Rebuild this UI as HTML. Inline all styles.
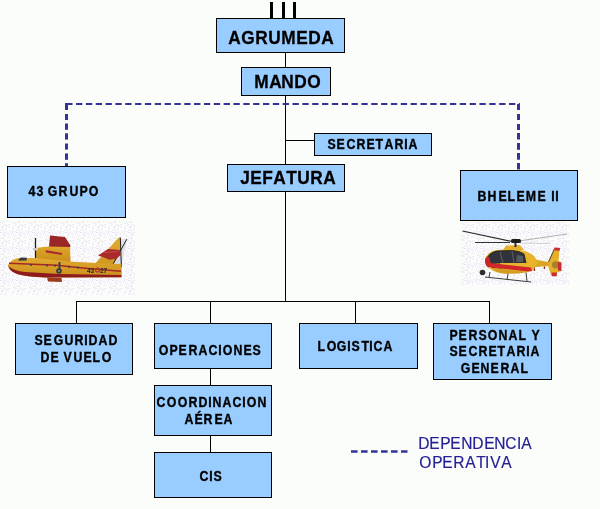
<!DOCTYPE html><html><head><meta charset="utf-8"><style>
html,body{margin:0;padding:0;}
body{width:600px;height:509px;background:#fbfdfb;position:relative;overflow:hidden;font-family:"Liberation Sans",sans-serif;}
.b{position:absolute;background:#99ccff;border:1px solid #000;box-sizing:border-box;}
.t{position:absolute;white-space:nowrap;will-change:transform;}
.l{position:absolute;background:#000;}
.g{display:inline-block;transform:scaleX(0.88);-webkit-text-stroke:0.35px #000;}
.g2{display:inline-block;transform:scaleX(0.96);-webkit-text-stroke:0.3px #000;}
.g3{display:inline-block;transform:scaleX(0.97);-webkit-text-stroke:0.2px #262096;}
svg{position:absolute;left:0;top:0;}
</style></head><body>
<div class="l" style="left:270px;top:2px;width:3px;height:16px"></div>
<div class="l" style="left:282px;top:2px;width:3px;height:16px"></div>
<div class="l" style="left:293px;top:2px;width:3px;height:16px"></div>
<div class="l" style="left:285px;top:53px;width:1px;height:14px"></div>
<div class="l" style="left:285px;top:96px;width:1px;height:68px"></div>
<div class="l" style="left:286px;top:140px;width:28px;height:1px"></div>
<div class="l" style="left:285px;top:192px;width:1px;height:109px"></div>
<div class="l" style="left:76px;top:301px;width:414px;height:1px"></div>
<div class="l" style="left:76px;top:302px;width:1px;height:21px"></div>
<div class="l" style="left:210px;top:302px;width:1px;height:21px"></div>
<div class="l" style="left:355px;top:302px;width:1px;height:21px"></div>
<div class="l" style="left:489px;top:302px;width:1px;height:21px"></div>
<div class="l" style="left:210px;top:369px;width:1px;height:16px"></div>
<div class="l" style="left:210px;top:436px;width:1px;height:16px"></div>
<div class="b" style="left:216px;top:18px;width:129px;height:35px"></div>
<div class="b" style="left:241px;top:67px;width:90px;height:29px"></div>
<div class="b" style="left:314px;top:133px;width:118px;height:23px"></div>
<div class="b" style="left:227px;top:164px;width:118px;height:28px"></div>
<div class="b" style="left:7px;top:166px;width:119px;height:52px"></div>
<div class="b" style="left:460px;top:170px;width:118px;height:51px"></div>
<div class="b" style="left:15px;top:323px;width:118px;height:52px"></div>
<div class="b" style="left:154px;top:323px;width:118px;height:46px"></div>
<div class="b" style="left:299px;top:323px;width:119px;height:46px"></div>
<div class="b" style="left:433px;top:323px;width:119px;height:57px"></div>
<div class="b" style="left:154px;top:385px;width:118px;height:51px"></div>
<div class="b" style="left:154px;top:452px;width:118px;height:46px"></div>
<div class="t" style="left:228px;top:29px;font:bold 18px/18px 'Liberation Sans',sans-serif;color:#000"><span class="g2">A</span><span class="g2">G</span><span class="g2">R</span><span class="g2">U</span><span class="g2">M</span><span class="g2">E</span><span class="g2">D</span><span class="g2">A</span></div>
<div class="t" style="left:254px;top:73px;font:bold 18px/18px 'Liberation Sans',sans-serif;color:#000;letter-spacing:-0.3px"><span class="g2">M</span><span class="g2">A</span><span class="g2">N</span><span class="g2">D</span><span class="g2">O</span></div>
<div class="t" style="left:240px;top:169px;font:bold 18px/18px 'Liberation Sans',sans-serif;color:#000"><span class="g2">J</span><span class="g2">E</span><span class="g2">F</span><span class="g2">A</span><span class="g2">T</span><span class="g2">U</span><span class="g2">R</span><span class="g2">A</span></div>
<div class="t" style="left:327px;top:137px;font:bold 14px/14px 'Liberation Sans',sans-serif;color:#000"><span class="g">S</span><span class="g">E</span><span class="g">C</span><span class="g">R</span><span class="g">E</span><span class="g">T</span><span class="g">A</span><span class="g">R</span><span class="g">I</span><span class="g">A</span></div>
<div class="t" style="left:28px;top:184px;font:bold 14px/14px 'Liberation Sans',sans-serif;color:#000"><span class="g">4</span><span class="g">3</span> <span class="g">G</span><span class="g">R</span><span class="g">U</span><span class="g">P</span><span class="g">O</span></div>
<div class="t" style="left:477px;top:189px;font:bold 14px/14px 'Liberation Sans',sans-serif;color:#000;letter-spacing:0.2px"><span class="g">B</span><span class="g">H</span><span class="g">E</span><span class="g">L</span><span class="g">E</span><span class="g">M</span><span class="g">E</span> <span class="g">I</span><span class="g">I</span></div>
<div class="t" style="left:34px;top:333px;font:bold 14px/14px 'Liberation Sans',sans-serif;color:#000"><span class="g">S</span><span class="g">E</span><span class="g">G</span><span class="g">U</span><span class="g">R</span><span class="g">I</span><span class="g">D</span><span class="g">A</span><span class="g">D</span></div>
<div class="t" style="left:40px;top:350px;font:bold 14px/14px 'Liberation Sans',sans-serif;color:#000"><span class="g">D</span><span class="g">E</span> <span class="g">V</span><span class="g">U</span><span class="g">E</span><span class="g">L</span><span class="g">O</span></div>
<div class="t" style="left:158px;top:343px;font:bold 14px/14px 'Liberation Sans',sans-serif;color:#000"><span class="g">O</span><span class="g">P</span><span class="g">E</span><span class="g">R</span><span class="g">A</span><span class="g">C</span><span class="g">I</span><span class="g">O</span><span class="g">N</span><span class="g">E</span><span class="g">S</span></div>
<div class="t" style="left:156px;top:395px;font:bold 14px/14px 'Liberation Sans',sans-serif;color:#000"><span class="g">C</span><span class="g">O</span><span class="g">O</span><span class="g">R</span><span class="g">D</span><span class="g">I</span><span class="g">N</span><span class="g">A</span><span class="g">C</span><span class="g">I</span><span class="g">O</span><span class="g">N</span></div>
<div class="t" style="left:184px;top:412px;font:bold 14px/14px 'Liberation Sans',sans-serif;color:#000"><span class="g">A</span><span class="g">É</span><span class="g">R</span><span class="g">E</span><span class="g">A</span></div>
<div class="t" style="left:199px;top:469px;font:bold 14px/14px 'Liberation Sans',sans-serif;color:#000"><span class="g">C</span><span class="g">I</span><span class="g">S</span></div>
<div class="t" style="left:317px;top:339px;font:bold 14px/14px 'Liberation Sans',sans-serif;color:#000"><span class="g">L</span><span class="g">O</span><span class="g">G</span><span class="g">I</span><span class="g">S</span><span class="g">T</span><span class="g">I</span><span class="g">C</span><span class="g">A</span></div>
<div class="t" style="left:449px;top:328px;font:bold 14px/14px 'Liberation Sans',sans-serif;color:#000"><span class="g">P</span><span class="g">E</span><span class="g">R</span><span class="g">S</span><span class="g">O</span><span class="g">N</span><span class="g">A</span><span class="g">L</span> <span class="g">Y</span></div>
<div class="t" style="left:449px;top:344px;font:bold 14px/14px 'Liberation Sans',sans-serif;color:#000"><span class="g">S</span><span class="g">E</span><span class="g">C</span><span class="g">R</span><span class="g">E</span><span class="g">T</span><span class="g">A</span><span class="g">R</span><span class="g">I</span><span class="g">A</span></div>
<div class="t" style="left:460px;top:361px;font:bold 14px/14px 'Liberation Sans',sans-serif;color:#000"><span class="g">G</span><span class="g">E</span><span class="g">N</span><span class="g">E</span><span class="g">R</span><span class="g">A</span><span class="g">L</span></div>
<div class="t" style="left:418px;top:436px;font:normal 16px/16px 'Liberation Sans',sans-serif;color:#262096;letter-spacing:-0.2px"><span class="g3">D</span><span class="g3">E</span><span class="g3">P</span><span class="g3">E</span><span class="g3">N</span><span class="g3">D</span><span class="g3">E</span><span class="g3">N</span><span class="g3">C</span><span class="g3">I</span><span class="g3">A</span></div>
<div class="t" style="left:419px;top:455px;font:normal 16px/16px 'Liberation Sans',sans-serif;color:#262096;letter-spacing:0.1px"><span class="g3">O</span><span class="g3">P</span><span class="g3">E</span><span class="g3">R</span><span class="g3">A</span><span class="g3">T</span><span class="g3">I</span><span class="g3">V</span><span class="g3">A</span></div>
<svg width="600" height="509" viewBox="0 0 600 509">
<defs>
<pattern id="dith" width="16" height="16" patternUnits="userSpaceOnUse">
<rect width="16" height="16" fill="#fdfdfd"/>
<path d="M0 0h1v1h-1zM3 0h1v1h-1zM6 0h1v1h-1zM8 0h1v1h-1zM10 0h1v1h-1zM14 0h1v1h-1zM3 1h1v1h-1zM5 1h1v1h-1zM7 1h1v1h-1zM9 1h1v1h-1zM15 1h1v1h-1zM1 2h1v1h-1zM2 2h1v1h-1zM6 2h1v1h-1zM12 2h1v1h-1zM1 3h1v1h-1zM3 3h1v1h-1zM8 3h1v1h-1zM13 3h1v1h-1zM6 4h1v1h-1zM12 4h1v1h-1zM14 4h1v1h-1zM1 5h1v1h-1zM2 5h1v1h-1zM5 5h1v1h-1zM0 6h1v1h-1zM4 6h1v1h-1zM6 6h1v1h-1zM10 6h1v1h-1zM12 6h1v1h-1zM3 7h1v1h-1zM9 7h1v1h-1zM12 7h1v1h-1zM13 7h1v1h-1zM15 7h1v1h-1zM0 8h1v1h-1zM1 8h1v1h-1zM2 8h1v1h-1zM4 8h1v1h-1zM6 8h1v1h-1zM10 8h1v1h-1zM12 8h1v1h-1zM3 9h1v1h-1zM5 9h1v1h-1zM7 9h1v1h-1zM8 9h1v1h-1zM11 9h1v1h-1zM13 9h1v1h-1zM2 10h1v1h-1zM4 10h1v1h-1zM8 10h1v1h-1zM3 11h1v1h-1zM4 11h1v1h-1zM5 11h1v1h-1zM13 11h1v1h-1zM15 11h1v1h-1zM0 12h1v1h-1zM8 12h1v1h-1zM14 12h1v1h-1zM3 13h1v1h-1zM7 13h1v1h-1zM9 13h1v1h-1zM0 14h1v1h-1zM2 14h1v1h-1zM3 14h1v1h-1zM12 14h1v1h-1zM14 14h1v1h-1zM13 15h1v1h-1zM15 15h1v1h-1z" fill="#ebe7f2" shape-rendering="crispEdges"/>
<path d="M4 1h1v1h-1zM2 3h1v1h-1zM9 4h1v1h-1zM15 8h1v1h-1zM15 9h1v1h-1zM11 10h1v1h-1zM11 11h1v1h-1zM2 13h1v1h-1zM14 13h1v1h-1zM4 14h1v1h-1z" fill="#f2f6e6" shape-rendering="crispEdges"/>
</pattern>
<linearGradient id="py" x1="0" y1="0" x2="0" y2="1">
<stop offset="0" stop-color="#e2aa30"/><stop offset="1" stop-color="#c88e1a"/>
</linearGradient>
<linearGradient id="hy" x1="0" y1="0" x2="0" y2="1">
<stop offset="0" stop-color="#f0c238"/><stop offset="1" stop-color="#d8a020"/>
</linearGradient>
</defs>
<!-- plane -->
<rect x="0" y="221" width="135" height="74" fill="url(#dith)"/>
<g>
<!-- rudder -->
<path d="M118.7 238.7 L126.8 239.2 L121.4 267.3 L112.2 265.7 Z" fill="#e2e0e6"/>
<!-- tail fin -->
<path d="M94.3 264.6 L118.7 237.6 L120.3 237.6 L121.4 267.3 L121.4 277 L94.3 277 Z" fill="url(#py)"/>
<path d="M120.3 237.6 L121.4 267.3 L112.2 265.7 L119.8 254 Z" fill="#dcdadf"/>
<path d="M126.8 239.2 L112.2 265.7 M120.3 237.6 L121.4 267.3" stroke="#1e1e1e" stroke-width="1" fill="none"/>
<!-- nacelle / wing block -->
<path d="M35 248 L70 244 L70.5 262 L35 262 Z" fill="url(#py)"/>
<!-- red block -->
<path d="M49 246.5 L50 235.5 L65 237 L70.5 245.5 L70 247 Z" fill="#9a2626"/>
<path d="M45.5 250 L62 253 L62 255 L46 252.5 Z" fill="#a82c2c"/>
<!-- fuselage -->
<path d="M8 265 Q11 259.5 18 258 L35 258 L70 261.5 L98 263 L121.4 264 L121.4 277.3 L45 277.5 Q28 276.5 21 275 Q13 273 10 269.5 Q8 267.5 8 265 Z" fill="url(#py)"/>
<!-- hull red -->
<path d="M8 266 Q14 271 25 272 L59 274 L121.4 275 L121.4 277.3 L45 277.5 Q28 276.5 21 275 Q13 273 10 269.5 Z" fill="#8e1c1e"/>
<path d="M47 277.5 L61.5 278 L62 282 L48 281.5 Z" fill="#9c3a1c"/>
<!-- red stripe -->
<path d="M9 262.6 L57 264.6 L85 267.6 L121 270.6 L121 272 L85 269 L57 266 L9 264 Z" fill="#a32828"/>
<g fill="#3a3f50"><circle cx="31" cy="265" r="1"/><circle cx="47" cy="265.5" r="1"/><circle cx="55" cy="265.8" r="1"/><circle cx="69" cy="266.8" r="1.1"/><circle cx="78" cy="267.5" r="1.1"/></g>
<!-- cockpit -->
<path d="M18.5 259.5 L21 257.5 L27 257.8 L26.5 260.5 L18.5 260.8 Z" fill="#3a3a44"/>
<!-- horizontal stabilizer -->
<path d="M98 255.4 L108 249 L119.8 250 L120.8 254.9 L116 258.7 L109.5 259.8 L104 257.6 Z" fill="#a82a2a"/>
<path d="M104 252.5 L118 251.5" stroke="#c84848" stroke-width="1"/>
<!-- propeller -->
<path d="M35.5 238 V258" stroke="#1e1e1e" stroke-width="1.3"/>
<rect x="33" y="248" width="5" height="2.5" fill="#c8c8c8"/>
<!-- gear -->
<path d="M59.5 262 V270" stroke="#404040" stroke-width="2"/>
<circle cx="59" cy="271" r="2.8" fill="#3a3a3a"/>
<circle cx="59" cy="271" r="1.1" fill="#8a8a8a"/>
<!-- 43 27 -->
<text x="87" y="272.5" font-family="Liberation Sans" font-size="6.5" font-weight="bold" fill="#2a2a2a">43</text>
<circle cx="97.5" cy="270" r="2" fill="none" stroke="#b03030" stroke-width="1.1"/>
<text x="100" y="272.5" font-family="Liberation Sans" font-size="6.5" font-weight="bold" fill="#2a2a2a">27</text>
</g>
<!-- helicopter -->
<rect x="461" y="222" width="108" height="63" fill="url(#dith)"/>
<g>
<path d="M462.5 231 L512 241.5" stroke="#2a2a2a" stroke-width="1.2"/>
<path d="M475 242.5 L510 242.5" stroke="#333" stroke-width="1"/>
<path d="M519 241 L567 234" stroke="#b0b0b0" stroke-width="1"/>
<path d="M521 243 L550 243.5" stroke="#c4c4c4" stroke-width="0.8"/>
<!-- tail boom -->
<path d="M530 258.5 L548 262 L548 266 L530 267.5 Z" fill="#dca424"/>
<!-- tail fin -->
<path d="M548 262 L554.6 248 L559.5 249.5 L558.6 261 L561 262 L561 271 L557 272.7 L556.5 276.3 L551.5 276 L548 266 Z" fill="#e4b02a"/>
<path d="M548.5 262 L554.6 248.5" stroke="#3a3a3a" stroke-width="0.9"/>
<path d="M554.6 247.5 L560 248 L559.6 250.8 L554 250.2 Z" fill="#c82c34"/>
<circle cx="555.5" cy="264.8" r="3.6" fill="#a88426"/>
<path d="M557.7 262 L561.5 262.5 L561.5 271 L558 270.5 Z" fill="#c82c34"/>
<path d="M551.5 272.5 L557 272.5 L556.5 276.3 L552 276.3 Z" fill="#c82c34"/>
<path d="M533.8 266 L534.5 271 M544.5 266.5 V269" stroke="#8a2a2a" stroke-width="1.4"/>
<!-- cowling -->
<path d="M503 250 L506 245.5 L520 245 L524 250 Z" fill="#e4b030"/>
<rect x="511" y="239" width="10" height="4" rx="1.5" fill="#1e1e1e"/>
<path d="M515.5 243 V247" stroke="#2a2a2a" stroke-width="2"/>
<!-- body -->
<path d="M485 261 Q486 252 496 250 L512 249 Q528 250 534 256 L538 262 L532 271 Q520 274 504 273.5 Q488 272 485 261 Z" fill="#e8b42c"/>
<!-- canopy -->
<path d="M486.5 260 Q488 253 497 251 L512 250.5 Q520 251 524 254 L526 263 L497 263 L488 265 Z" fill="#30343a"/>
<path d="M500 252 L503 263 M512 251 L514 263" stroke="#6a6e74" stroke-width="0.8"/>
<path d="M517 255 L523 256 L523 262 L516 262 Z" fill="#555a60"/>
<path d="M487 263 L500 263.5 L502 268.5 L492 268 Z" fill="#3a3c40"/>
<path d="M486.5 260 Q488 253 497 251 L512 250.5 Q520 251 524 254 L526 263" stroke="#1a1a1a" stroke-width="0.8" fill="none"/>
<!-- red nose -->
<path d="M485 259 Q486 256.5 489 257 L492 266.5 L488 267.5 Q484.5 265 485 259 Z" fill="#c8262a"/>
<!-- red stripe -->
<path d="M489 263 L531 267.5 L532 271 L528 271.5 L491 267.5 Z" fill="#d2282a"/>
<!-- lower body shade -->
<path d="M492 268 L528 272 Q518 274 504 273.5 Q495 272.5 492 268 Z" fill="#d49c22"/>
<!-- skids -->
<circle cx="482.5" cy="272.5" r="2.8" fill="#2e2e2e"/>
<path d="M485 277 L531 282 M490 272 L489 277.5 M508 273.5 L507 279.5 M526 272.5 L527 281.5" stroke="#3c3c3c" stroke-width="1" fill="none"/>
</g>
<g fill="#333399" shape-rendering="auto">
<path d="M66.2 104 H520" stroke="#333399" stroke-width="2" stroke-dasharray="6.3 3.54" fill="none"/>
<rect x="65" y="103" width="3" height="7.0"/><rect x="65" y="114" width="3" height="6.0"/><rect x="65" y="123.5" width="3" height="6.3"/><rect x="65" y="133.3" width="3" height="6.3"/><rect x="65" y="143.5" width="3" height="6.1"/><rect x="65" y="153.4" width="3" height="6.4"/><rect x="65" y="163.2" width="3" height="2.8"/>
<rect x="517" y="104" width="3" height="6.0"/><rect x="517" y="114" width="3" height="6.0"/><rect x="517" y="124" width="3" height="6.0"/><rect x="517" y="133" width="3" height="6.5"/><rect x="517" y="143" width="3" height="6.8"/><rect x="517" y="153" width="3" height="6.7"/><rect x="517" y="163" width="3" height="6.5"/>
<path d="M351 451.5 H407.5" stroke="#333399" stroke-width="2.6" stroke-dasharray="6.6 3.4" fill="none"/>
</g>
</svg>

</body></html>
